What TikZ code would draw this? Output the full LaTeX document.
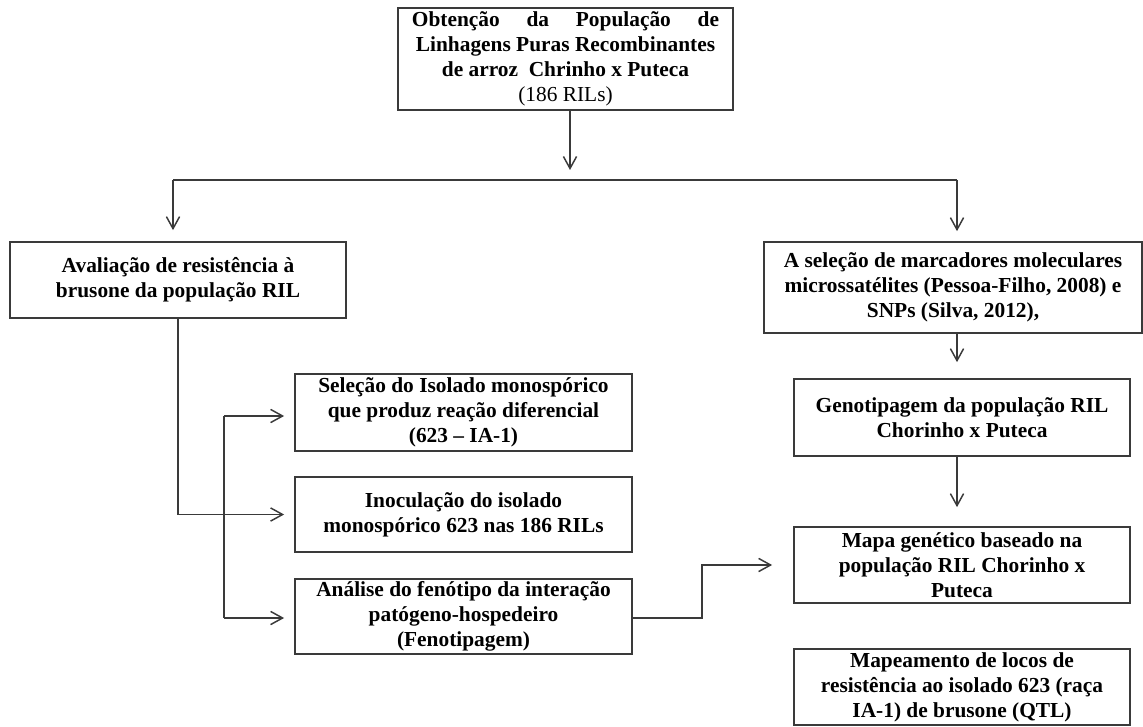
\documentclass[tikz,border=0pt]{standalone}
\usepackage{fontspec}
\setmainfont{Liberation Serif}
\usepackage{tikz}
\usetikzlibrary{positioning, arrows.meta, calc}
\definecolor{lineg}{HTML}{3A3A3A}

\begin{document}
\begin{tikzpicture}[
  x=0.025cm, y=-0.025cm,
  font=\fontsize{15.2}{17.8}\selectfont\bfseries,
  B/.style={draw=lineg, rectangle, line width=1.2pt, align=center,
            minimum width=8.4cm, minimum height=1.9cm,
            inner xsep=2pt, inner ysep=0.5pt},
  arr/.style={-{Straight Barb[length=3mm,width=3.3mm]}, line width=1.05pt, lineg},
  ln/.style={line width=1.05pt, lineg},
]
\useasboundingbox (0,0) rectangle (1143,727);

%% ---- Top ----
\node[B, minimum width=8.375cm, minimum height=2.55cm]
  (obt) at (565.5,59)
  {\makebox[7.675cm][s]{Obtenção\hfill da\hfill População\hfill de}\\
   Linhagens Puras Recombinantes\\
   de arroz \ Chrinho x Puteca\\
   {\mdseries (186 RILs)}};

\coordinate (tip0) at (570,170);
\coordinate (hL)   at (173,180);
\coordinate (hR)   at (957,180);

\draw[arr] (obt.south -| tip0) -- (tip0);
\draw[ln] (hL) -- (hR);

%% ---- Left branch ----
\node[B] (aval) at (178,280)
  {Avaliação de resistência à\\brusone da população RIL};

\node[B, minimum width=8.425cm, minimum height=1.925cm] (iso) at (463.5,412.5)
  {Seleção do Isolado monospórico\\que produz reação diferencial\\(623 -- IA-1)};
\node[B, minimum width=8.425cm, minimum height=1.875cm] (ino) at (463.5,514.5)
  {Inoculação do isolado\\monospórico 623 nas 186 RILs};
\node[B, minimum width=8.425cm, minimum height=1.875cm] (ana) at (463.5,616.5)
  {Análise do fenótipo da interação\\patógeno-hospedeiro\\(Fenotipagem)};

\draw[arr, shorten >=0.275cm] (hL) -- (hL |- aval.north);
\draw[arr, shorten >=0.25cm] (aval.south) |- (ino.west);

% inner bracket to the three steps
\coordinate (vT) at (224,416);
\coordinate (vB) at (224,618);
\draw[ln] (vT) -- (vB);
\draw[arr, shorten >=0.25cm] (vT) -- (vT -| iso.west);
\draw[arr, shorten >=0.25cm] (vB) -- (vB -| ana.west);

%% ---- Right branch ----
\node[B, minimum width=9.45cm, minimum height=2.275cm] (sel) at (953,287.5)
  {A seleção de marcadores moleculares\\
   microssatélites (Pessoa-Filho, 2008) e\\
   SNPs (Silva, 2012),};
\node[B, minimum height=1.925cm] (geno) at (962,417.5)
  {Genotipagem da população RIL\\Chorinho x Puteca};
\node[B] (mapa) at (962,565)
  {Mapa genético baseado na\\população RIL Chorinho x\\Puteca};
\node[B] (mqtl) at (962,687)
  {Mapeamento de locos de\\resistência ao isolado 623 (raça\\IA-1) de brusone (QTL)};

\draw[arr, shorten >=0.25cm] (hR) -- (hR |- sel.north);
\draw[arr, shorten >=0.4cm] (sel.south -| hR) -- (geno.north -| hR);
\draw[arr, shorten >=0.475cm] (geno.south -| hR) -- (mapa.north -| hR);

% phenotype -> genetic map
\coordinate (stp) at (702,618);
\draw[arr, shorten >=0.525cm] (stp -| ana.east) -- (stp) |- (mapa.west);

\end{tikzpicture}
\end{document}
